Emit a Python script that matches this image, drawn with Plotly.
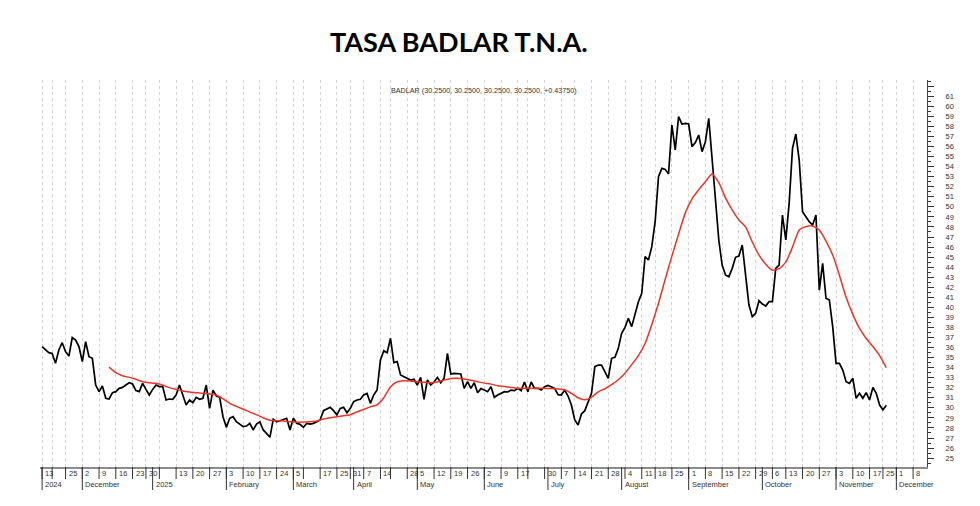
import pandas as pd
import plotly.graph_objects as go

# ---------------- data ----------------
holidays = ["2024-11-18", "2024-12-25", "2025-01-01", "2025-03-03", "2025-03-04",
            "2025-03-24", "2025-04-02", "2025-04-17", "2025-04-18", "2025-05-01",
            "2025-05-02", "2025-06-16", "2025-06-20", "2025-07-09", "2025-08-15",
            "2025-10-10", "2025-11-21", "2025-11-24"]

first_session = "2024-11-13"
# BADLAR T.N.A. (%) one value per trading session from 2024-11-13 to 2025-11-26
badlar = [
    36.09, 35.76, 35.49, 35.42, 34.43, 35.76, 36.48, 35.59, 35.16, 37.00,
    36.75, 36.09, 34.60, 36.58, 35.09, 34.93, 32.27, 31.61, 32.17, 30.95,
    30.88, 31.51, 31.61, 31.94, 32.04, 32.27, 32.50, 32.37, 31.71, 31.61,
    32.44, 31.84, 31.28, 31.84, 32.27, 32.11, 32.11, 30.78, 30.88, 30.85,
    31.28, 32.27, 31.28, 30.28, 30.78, 30.51, 31.05, 30.85, 30.95, 32.27,
    29.95, 31.77, 31.18, 31.05, 29.12, 28.06, 28.96, 29.12, 28.62, 28.39,
    28.13, 28.19, 28.46, 27.80, 28.39, 28.62, 27.80, 27.46, 27.07, 28.86,
    28.62, 28.72, 28.86, 28.96, 27.80, 28.96, 28.46, 28.36, 28.06, 28.46,
    28.39, 28.46, 28.62, 28.79, 29.72, 29.85, 30.05, 29.72, 29.29, 29.95,
    30.05, 29.52, 29.95, 30.61, 30.78, 30.85, 31.28, 31.44, 30.45, 31.28,
    31.77, 34.76, 35.69, 35.49, 36.92, 34.50, 34.60, 33.27, 33.10, 32.90,
    32.77, 32.84, 32.27, 33.03, 30.85, 32.77, 32.27, 32.57, 33.03, 32.50,
    32.94, 35.42, 33.37, 33.43, 33.43, 33.37, 31.94, 32.60, 31.94, 32.50,
    31.51, 31.91, 31.77, 31.61, 32.11, 31.05, 31.28, 31.44, 31.61, 31.58,
    31.77, 31.71, 31.94, 31.71, 32.57, 31.61, 32.57, 31.94, 31.94, 31.77,
    32.11, 32.24, 32.11, 31.94, 31.31, 31.28, 31.77, 31.18, 30.28, 28.79,
    28.29, 29.39, 29.72, 30.61, 31.44, 34.10, 34.26, 34.26, 33.60, 32.94,
    34.93, 35.03, 35.92, 37.41, 38.01, 38.90, 38.08, 39.24, 40.56, 41.39,
    45.04, 44.71, 46.04, 48.52, 53.00, 53.83, 53.73, 53.27, 58.14, 55.66,
    58.97, 58.24, 58.31, 58.24, 55.99, 56.39, 57.15, 55.49, 56.48, 58.81,
    54.99, 51.01, 46.70, 44.21, 43.22, 43.05, 43.88, 44.98, 45.11, 46.20,
    43.22, 40.23, 39.07, 39.40, 40.66, 40.33, 40.13, 40.56, 40.56, 43.88,
    44.21, 49.19, 46.70, 50.35, 55.82, 57.25, 54.66, 49.52, 49.02, 48.52,
    48.19, 49.19, 41.72, 44.38, 40.90, 40.73, 38.08, 34.43, 34.43, 33.76,
    32.60, 32.44, 32.94, 30.95, 31.44, 30.95, 31.51, 30.78, 32.04, 31.44,
    30.28, 29.81, 30.25,
]

# red average line, read every 2nd session starting at the 21st session
ma_start_session = 20
ma_step = 2
ma_line = [
    34.05, 33.50, 33.20, 33.03, 32.84, 32.60, 32.50, 32.44, 32.27, 32.01,
    31.84, 31.68, 31.58, 31.51, 31.44, 31.38, 31.28, 30.90, 30.45, 30.15,
    29.88, 29.58, 29.32, 29.02, 28.77, 28.72, 28.70, 28.62, 28.57, 28.58,
    28.62, 28.69, 28.89, 29.02, 29.12, 29.22, 29.32, 29.60, 29.85, 30.10,
    30.30, 31.00, 32.10, 32.60, 32.70, 32.68, 32.60, 32.55, 32.50, 32.58,
    32.75, 32.92, 32.94, 32.87, 32.75, 32.60, 32.46, 32.36, 32.20, 32.12,
    32.03, 31.95, 31.94, 31.94, 31.94, 31.94, 31.92, 31.88, 31.80, 31.45,
    31.00, 30.80, 31.05, 31.60, 31.90, 32.30, 32.80, 33.45, 34.30, 35.20,
    36.40, 38.30, 40.40, 42.80, 45.10, 47.30, 49.40, 50.80, 51.70, 52.50,
    53.30, 52.40, 50.90, 49.70, 48.70, 48.00, 46.50, 45.20, 44.30, 43.70,
    43.85, 44.50, 46.00, 47.70, 48.03, 48.10, 47.70, 46.60, 45.20, 43.20,
    41.00, 39.30, 37.90, 36.90, 36.10, 35.20, 34.00,
]

tick_dates = ["2024-11-13", "2024-11-19", "2024-11-25", "2024-12-02", "2024-12-09",
              "2024-12-16", "2024-12-23", "2024-12-30", "2025-01-06", "2025-01-13",
              "2025-01-20", "2025-01-27", "2025-02-03", "2025-02-10", "2025-02-17",
              "2025-02-24", "2025-03-05", "2025-03-10", "2025-03-17", "2025-03-25",
              "2025-03-31", "2025-04-07", "2025-04-14", "2025-04-21", "2025-04-28",
              "2025-05-05", "2025-05-12", "2025-05-19", "2025-05-26", "2025-06-02",
              "2025-06-09", "2025-06-17", "2025-06-23", "2025-06-30", "2025-07-07",
              "2025-07-14", "2025-07-21", "2025-07-28", "2025-08-04", "2025-08-11",
              "2025-08-18", "2025-08-25", "2025-09-01", "2025-09-08", "2025-09-15",
              "2025-09-22", "2025-09-29", "2025-10-06", "2025-10-13", "2025-10-20",
              "2025-10-27", "2025-11-03", "2025-11-10", "2025-11-17", "2025-11-25",
              "2025-12-01", "2025-12-08"]
tick_labels = ["13", "", "25", "2", "9", "16", "23", "30", "", "13",
               "20", "27", "3", "10", "17", "24", "5", "", "17", "25",
               "31", "7", "14", "", "28", "5", "12", "19", "26", "2",
               "9", "17", "", "30", "7", "14", "21", "28", "4", "11",
               "18", "25", "1", "8", "15", "22", "29", "6", "13", "20",
               "27", "3", "10", "17", "25", "1", "8"]

month_dates = ["2024-11-13", "2024-12-02", "2025-01-02", "2025-02-03", "2025-03-05",
               "2025-04-01", "2025-05-05", "2025-06-02", "2025-07-01", "2025-08-01",
               "2025-09-01", "2025-10-01", "2025-11-03", "2025-12-01"]
month_labels = ["2024", "December", "2025", "February", "March", "April", "May",
                "June", "July", "August", "September", "October", "November", "December"]

y_labels = list(range(25, 62))
title_text = "TASA BADLAR T.N.A."
legend_text = "BADLAR (30.2500, 30.2500, 30.2500, 30.2500, +0.43750)"

# ---------------- trading-day scale ----------------
hol = set(holidays)
sessions = [d for d in pd.bdate_range(first_session, "2025-12-31")
            if d.strftime("%Y-%m-%d") not in hol]
pos = {d.strftime("%Y-%m-%d"): i for i, d in enumerate(sessions)}
dates_str = [d.strftime("%Y-%m-%d") for d in sessions]

bx = list(range(len(badlar)))
mx = list(range(ma_start_session, ma_start_session + ma_step * len(ma_line), ma_step))

W, H = 980, 506
ml, mr, mt, mb = 40, 53, 80, 39
plot_h = H - mt - mb
plot_w = W - ml - mr


def py(px):
    return -px / plot_h


fig = go.Figure()
fig.add_trace(go.Scatter(
    x=bx, y=badlar, mode="lines", name="BADLAR",
    customdata=dates_str[:len(badlar)],
    hovertemplate="%{customdata}: %{y:.2f}<extra></extra>",
    line=dict(color="#000000", width=1.7)))
fig.add_trace(go.Scatter(
    x=mx, y=ma_line, mode="lines", name="Media",
    customdata=[dates_str[i] for i in mx],
    hovertemplate="%{customdata}: %{y:.2f}<extra></extra>",
    line=dict(color="#e8352b", width=1.5, shape="spline", smoothing=0.5)))

tick_pos = [pos[d] for d in tick_dates]
month_pos = [pos[d] for d in month_dates]

small_font = dict(size=7.5, color="#333333", family="Liberation Sans")
shapes = []
annotations = []
for p, lab in zip(tick_pos, tick_labels):
    shapes.append(dict(type="line", xref="x", yref="paper", x0=p, x1=p,
                       y0=0, y1=py(12), line=dict(color="#333333", width=1)))
    if lab:
        annotations.append(dict(x=p, y=py(6.5), xref="x", yref="paper", text=lab,
                                showarrow=False, xanchor="left", yanchor="middle",
                                xshift=1, font=small_font))
for p, lab in zip(month_pos, month_labels):
    shapes.append(dict(type="line", xref="x", yref="paper", x0=p, x1=p,
                       y0=0, y1=py(23), line=dict(color="#333333", width=1)))
    annotations.append(dict(x=p, y=py(17.5), xref="x", yref="paper", text=lab,
                            showarrow=False, xanchor="left", yanchor="middle",
                            xshift=1, font=small_font))

# title
annotations.append(dict(x=(459 - ml) / plot_w, y=1 + (mt - 42) / plot_h,
                        xref="paper", yref="paper",
                        text="<b>" + title_text + "</b>", showarrow=False,
                        xanchor="center", yanchor="middle",
                        font=dict(size=27, color="#000000", family="Lato")))
# legend line
annotations.append(dict(x=0.5, y=1 - (90.5 - mt) / plot_h,
                        xref="paper", yref="paper", text=legend_text, showarrow=False,
                        xanchor="center", yanchor="middle",
                        font=dict(size=7.2, color="#333333", family="Liberation Sans")))

x0 = -(42.1 - ml) / 3.35
x1 = (W - mr - 42.1) / 3.35
y0 = 61 - (H - mb - 96.3) / 10.05
y1 = 61 + (96.3 - mt) / 10.05

fig.update_layout(
    width=W, height=H,
    margin=dict(l=ml, r=mr, t=mt, b=mb, pad=0),
    paper_bgcolor="white", plot_bgcolor="white",
    showlegend=False,
    shapes=shapes, annotations=annotations,
    xaxis=dict(range=[x0, x1], tickmode="array", tickvals=tick_pos,
               showticklabels=False, ticks="", showgrid=True,
               gridcolor="#d2d2d2", griddash="dot", gridwidth=1,
               zeroline=False, showline=True, linecolor="#8c8c8c", linewidth=2),
    yaxis=dict(side="right", range=[y0, y1], tickmode="array",
               tickvals=y_labels + [62], ticktext=[str(v) for v in y_labels] + [""],
               ticks="outside", ticklen=6, tickcolor="#333333", tickwidth=1,
               minor=dict(ticks="outside", ticklen=3, dtick=0.5, tick0=0,
                          tickcolor="#333333", showgrid=False),
               ticklabelstandoff=10,
               tickfont=dict(size=7.5, color="#333333", family="Liberation Sans"),
               showgrid=False, zeroline=False, showline=True,
               linecolor="#444444", linewidth=1),
)

fig.write_html("out.html",
               config={"displayModeBar": False},
               post_script="document.body.style.margin='0';"
                           "document.body.style.padding='0';")
